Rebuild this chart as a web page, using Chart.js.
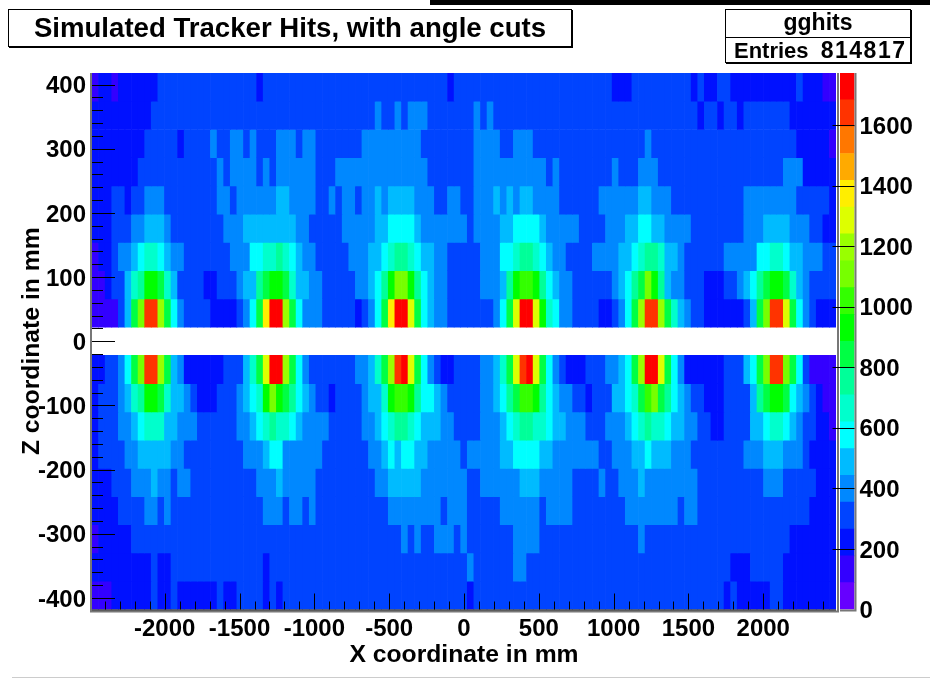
<!DOCTYPE html>
<html><head><meta charset="utf-8">
<script src="https://cdn.jsdelivr.net/npm/chart.js@4"></script>
<style>
html,body{margin:0;padding:0;background:#fff;width:930px;height:681px;overflow:hidden;font-family:"Liberation Sans",Arial,sans-serif}
canvas{position:absolute}
#main{left:0;top:0}
#bar{left:820px;top:0}
.box{position:absolute;background:#fff;border:1px solid #000;box-shadow:1px 1px 0 #000;font-weight:bold;color:#000;box-sizing:border-box}
#title{left:8px;top:9px;width:564px;height:38px;font-size:27.6px;line-height:35px;text-align:center}
#stats{left:725px;top:9px;width:186px;height:54px;font-size:22px}
#stats .h{height:27px;line-height:25px;text-align:center;border-bottom:1px solid #000;font-size:23px}
#stats .r{display:flex;justify-content:space-between;padding:0 5px 0 8px;line-height:25px}
#stats .r span+span{font-size:23px;letter-spacing:1.5px;margin-right:-1.5px}
#topbar{position:absolute;left:430px;top:0;width:500px;height:5px;background:#000}
#botline{position:absolute;left:12px;top:677px;width:918px;height:1px;background:#ccc}
</style></head><body>
<div id="topbar"></div><div id="botline"></div>
<canvas id="main" width="930" height="681"></canvas>
<canvas id="bar" width="110" height="681"></canvas>
<div class="box" id="title">Simulated Tracker Hits, with angle cuts</div>
<div class="box" id="stats"><div class="h">gghits</div><div class="r"><span>Entries</span><span>814817</span></div></div>
<script>
// Histogram: 113 x-bins, 19 z-bins, each 44 mm wide. Each row: pairs of [first x-bin, colour band].
const row_p396=[0,1,1,2,3,1,4,2,10,3,25,2,26,3,54,2,55,3,79,2,82,3,91,2,92,3,93,2,95,3,97,2,107,3,108,2,111,1];
const row_p352=[0,2,9,3,43,4,44,3,46,4,47,3,48,4,51,3,58,4,59,3,60,4,61,3,92,2,93,3,95,2,96,3,98,2,99,3,106,2];
const row_p308=[0,2,8,3,13,2,14,3,18,4,19,3,21,4,23,3,24,4,25,3,28,4,31,3,32,4,34,3,41,4,50,3,58,4,62,3,64,4,67,3,84,4,85,3,107,2,112,1];
const row_p264=[0,2,7,3,19,4,20,3,21,4,25,3,26,4,27,3,28,4,34,3,37,4,51,3,58,4,69,3,70,4,71,3,79,4,80,3,83,4,86,3,105,4,108,2];
const row_p220=[0,2,3,3,5,2,6,3,8,4,11,3,19,4,21,3,22,4,28,5,30,4,34,3,36,4,37,3,38,4,40,3,41,4,43,5,44,4,45,5,49,4,52,3,54,4,56,3,58,4,61,5,62,4,63,5,64,4,65,5,67,4,71,3,77,4,83,5,85,4,88,3,99,4,107,3,112,2];
const row_p176=[0,2,3,3,6,4,8,5,11,4,12,3,20,4,23,5,31,4,33,3,38,4,43,5,45,6,49,5,50,4,57,3,58,4,62,5,64,6,68,5,69,4,74,3,78,4,81,5,83,6,85,5,87,4,91,3,99,4,102,5,106,4,109,3,111,2];
const row_p132=[0,1,1,2,3,3,4,4,6,5,7,6,8,7,10,6,11,5,12,4,14,3,21,4,24,6,26,7,28,8,29,7,30,6,31,5,32,4,34,3,39,4,42,5,44,6,45,7,46,8,48,7,49,6,50,5,52,4,54,3,59,4,62,6,64,7,65,8,67,7,68,6,69,5,70,4,72,3,76,4,80,5,82,6,83,7,84,8,86,7,87,5,89,4,90,3,96,4,101,6,103,7,105,6,106,5,108,4,111,3];
const row_p88=[0,1,2,2,3,3,5,5,6,7,7,8,8,10,10,9,11,7,12,5,13,3,17,2,19,3,22,4,23,5,25,8,26,9,27,10,29,9,30,7,31,5,33,4,35,3,40,4,42,5,43,6,44,8,45,10,46,12,48,10,49,8,50,6,51,5,52,4,54,3,59,4,62,5,63,8,64,10,65,11,67,10,68,8,69,6,70,5,71,4,73,3,79,4,80,5,81,6,82,8,83,9,84,12,85,10,86,8,87,5,88,4,90,3,93,2,96,3,98,4,99,5,100,6,101,8,102,9,103,10,105,9,106,7,107,5,108,4,109,3];
const row_p44=[0,1,4,3,5,5,6,9,7,12,8,18,10,13,11,9,12,6,13,4,14,3,18,2,22,3,23,4,24,6,25,9,26,15,27,19,29,13,30,9,31,6,32,4,35,3,40,2,41,3,42,4,43,6,44,9,45,15,46,19,48,14,49,9,50,6,51,5,52,4,54,3,61,4,62,6,63,9,64,14,65,19,67,14,68,10,69,7,70,6,71,4,73,3,77,2,79,3,80,4,81,6,82,9,83,13,84,18,86,13,87,9,88,7,89,5,90,4,91,3,93,2,99,3,100,5,101,9,102,12,103,18,105,14,106,9,107,6,108,4,109,3,110,2];
const row_m44=[0,2,2,3,4,4,5,6,6,9,7,12,8,18,10,13,11,9,12,5,13,4,14,2,20,3,23,5,24,7,25,9,26,14,27,19,29,13,30,9,31,6,32,4,33,3,40,4,42,5,43,7,44,9,45,13,46,18,47,19,48,14,49,9,50,6,51,4,52,3,53,2,55,3,59,4,61,5,62,7,63,9,64,14,65,18,66,19,67,14,68,9,69,6,70,4,71,3,72,2,75,3,78,4,80,5,81,6,82,9,83,13,84,19,86,14,87,9,88,6,89,4,90,2,96,3,99,5,100,6,101,9,102,12,103,18,105,12,106,9,107,6,108,3,109,1];
const row_m88=[0,2,1,3,4,4,5,5,6,7,7,8,8,10,10,9,11,7,12,5,14,4,15,3,16,2,19,3,22,4,23,5,24,6,25,7,26,10,27,12,28,10,29,9,30,8,31,6,32,5,33,4,34,3,36,2,37,3,41,4,42,5,44,7,45,10,46,11,48,10,49,8,50,6,52,5,53,4,54,3,59,4,61,5,62,6,63,8,64,9,65,11,67,10,68,8,69,6,70,5,71,4,73,3,75,2,76,3,79,5,81,6,82,7,83,9,84,11,85,12,86,9,87,8,88,6,89,5,90,4,91,3,93,2,96,3,100,5,101,8,102,9,103,10,105,9,106,6,107,5,108,4,109,3,110,2,111,1];
const row_m132=[0,2,1,3,4,4,6,5,7,6,8,7,11,5,13,4,16,3,22,4,24,5,25,6,26,7,27,8,28,7,30,6,31,5,32,4,36,3,41,4,43,5,44,6,45,7,46,8,48,7,49,6,50,5,53,4,55,3,59,4,62,5,63,6,64,7,65,8,67,7,69,6,70,5,72,4,75,3,78,4,81,5,82,6,83,7,84,8,85,7,87,6,88,5,90,4,92,3,94,2,96,3,100,5,102,6,103,7,105,6,106,5,107,4,108,3,110,2,112,1];
const row_m176=[0,2,1,3,5,4,7,5,12,4,14,3,23,4,26,5,27,6,29,4,35,3,42,4,44,5,45,6,46,5,47,6,49,5,51,4,56,3,57,4,62,5,64,6,68,5,70,4,77,3,79,4,82,5,84,6,85,5,88,4,91,3,99,4,102,5,105,4,108,3,109,2];
const row_m220=[0,2,3,3,6,4,9,5,10,4,12,3,13,4,15,3,25,4,28,5,29,4,34,3,43,4,45,5,50,4,57,3,59,4,65,5,68,4,73,3,77,4,78,3,80,4,83,5,84,4,92,3,102,4,105,3,110,2];
const row_m264=[0,2,4,3,8,4,10,3,11,4,12,3,26,4,29,3,30,4,32,3,33,4,34,3,45,4,53,3,54,4,57,3,62,4,68,3,69,4,73,3,81,4,89,3,90,4,92,3,109,2];
const row_m308=[0,1,1,2,6,3,47,4,48,3,49,4,50,3,52,4,55,3,56,4,57,3,64,4,68,3,83,4,84,3,106,2];
const row_m352=[0,2,9,3,10,2,12,3,26,2,27,3,57,4,58,3,64,4,66,3,97,2,100,3,105,2];
const row_m396=[0,1,3,2,9,3,10,2,12,3,13,2,19,3,20,2,22,3,26,2,27,3,28,2,29,3,57,2,58,3,96,2,97,3,98,2,103,3,105,2];

const rowCentres=[396,352,308,264,220,176,132,88,44,-44,-88,-132,-176,-220,-264,-308,-352,-396];
const rows=[row_p396,row_p352,row_p308,row_p264,row_p220,row_p176,row_p132,row_p88,row_p44,row_m44,row_m88,row_m132,row_m176,row_m220,row_m264,row_m308,row_m352,row_m396];
const bandEdges=[0,88.6,177.2,265.8,354.4,443,531.6,620.2,708.8,797.4,886,974.6,1063.2,1151.8,1240.4,1329,1417.6,1506.2,1594.8,1683.4,1772];
const bandColours=['#6600ff','#3300ff','#0011ff','#0044ff','#0088ff','#00bbff','#00ffff','#00ffcc','#00ff99','#00ff44','#00ff00','#33ff00','#77ff00','#99ff00','#ddff00','#ffee00','#ffaa00','#ff7700','#ff3300','#ff0000'];
const xTicksMajor=[-2000,-1500,-1000,-500,0,500,1000,1500,2000];
const binWidth=44, nBinsX=113, halfX=2486, halfZ=418;
const paletteMax=1772;

function expand(pairs){
  const out=[];
  for(let i=0;i<pairs.length;i+=2){
    const end=i+2<pairs.length?pairs[i+2]:nBinsX;
    for(let c=pairs[i];c<end;c++) out.push(pairs[i+1]);
  }
  return out;
}
const datasets=rows.map((r,ri)=>{
  const bands=expand(r);
  const zc=rowCentres[ri];
  return {
    data:bands.map((b,c)=>({x:-halfX+binWidth*(c+0.5),y:[zc-binWidth/2,zc+binWidth/2]})),
    backgroundColor:bands.map(b=>bandColours[b]),
    borderWidth:0,barPercentage:1,categoryPercentage:1,grouped:false
  };
});

const tickFont={family:'"Liberation Sans",Arial,sans-serif',weight:'bold',size:24};
const titleFont={family:'"Liberation Sans",Arial,sans-serif',weight:'bold',size:24.7};

const insideTicks={id:'insideTicks',afterDatasetsDraw(c){
  const g=c.ctx,{x,y}=c.scales,a=c.chartArea;
  g.save();
  g.strokeStyle='#777';g.lineWidth=2;
  g.beginPath();g.moveTo(a.left-1,a.top);g.lineTo(a.left-1,a.bottom+2);g.lineTo(a.right+2,a.bottom+2);g.lineTo(a.right+2,a.top);g.stroke();
  g.strokeStyle='#000';g.lineWidth=1;
  g.beginPath();g.moveTo(a.left,a.bottom+.5);g.lineTo(a.right,a.bottom+.5);
  for(let v=-2400;v<=2400;v+=100){
    const p=Math.round(x.getPixelForValue(v))+.5,len=v%500===0?16:8;
    g.moveTo(p,a.bottom);g.lineTo(p,a.bottom-len);
  }
  for(let v=-400;v<=400;v+=20){
    const p=Math.round(y.getPixelForValue(v))+.5,len=v%100===0?23:11;
    g.moveTo(a.left,p);g.lineTo(a.left+len,p);
  }
  g.stroke();g.restore();
}};

new Chart(document.getElementById('main'),{
  type:'bar',
  data:{datasets},
  options:{
    responsive:false,animation:false,events:[],
    layout:{padding:{top:73,right:94,left:0,bottom:0}},
    plugins:{legend:{display:false},tooltip:{enabled:false}},
    scales:{
      x:{type:'linear',offset:false,min:-halfX,max:halfX,
        afterFit(s){s.height=71.5},
        grid:{display:false,drawTicks:false},border:{display:false},
        afterBuildTicks(s){s.ticks=xTicksMajor.map(v=>({value:v}))},
        ticks:{autoSkip:false,maxRotation:0,padding:5,color:'#000',font:tickFont,callback:v=>String(v)},
        title:{display:true,text:'X coordinate in mm',color:'#000',font:titleFont,padding:{top:4,bottom:11}}},
      y:{type:'linear',min:-halfZ,max:halfZ,
        afterFit(s){s.width=92},
        grid:{display:false,drawTicks:false},border:{display:false},
        afterBuildTicks(s){s.ticks=[-400,-300,-200,-100,0,100,200,300,400].map(v=>({value:v}))},
        ticks:{autoSkip:false,padding:6,labelOffset:2,color:'#000',font:tickFont,callback:v=>String(v)},
        title:{display:true,text:'Z coordinate in mm',color:'#000',font:titleFont,padding:{top:17,bottom:0}}}
    }
  },
  plugins:[insideTicks]
});

const barTicks={id:'barTicks',afterDatasetsDraw(c){
  const g=c.ctx,y=c.scales.y,a=c.chartArea;
  g.save();
  g.strokeStyle='#777';g.lineWidth=2;
  g.beginPath();g.moveTo(a.left,a.bottom+1);g.lineTo(a.right+1,a.bottom+1);g.lineTo(a.right+1,a.top);g.stroke();
  g.strokeStyle='#000';g.lineWidth=1;g.beginPath();
  for(let v=200;v<=1600;v+=200){const p=Math.round(y.getPixelForValue(v))+.5;g.moveTo(a.right,p);g.lineTo(a.right-22,p);}
  g.stroke();g.restore();
}};
new Chart(document.getElementById('bar'),{
  type:'bar',
  data:{labels:['z'],datasets:bandColours.map((col,i)=>({
    data:[[bandEdges[i],bandEdges[i+1]]],backgroundColor:col,borderWidth:0,
    barPercentage:1,categoryPercentage:1,grouped:false}))},
  options:{
    responsive:false,animation:false,events:[],
    layout:{padding:{top:73,left:20,right:0,bottom:71.5}},
    plugins:{legend:{display:false},tooltip:{enabled:false}},
    scales:{
      x:{display:false,offset:true},
      y:{position:'right',min:0,max:paletteMax,
        afterFit(s){s.width=75.5},
        grid:{display:false,drawTicks:false},border:{display:false},
        afterBuildTicks(s){s.ticks=[0,200,400,600,800,1000,1200,1400,1600].map(v=>({value:v}))},
        ticks:{autoSkip:false,padding:5,labelOffset:2,color:'#000',font:tickFont,callback:v=>String(v)}}
    }
  },
  plugins:[barTicks]
});
</script>
</body></html>
